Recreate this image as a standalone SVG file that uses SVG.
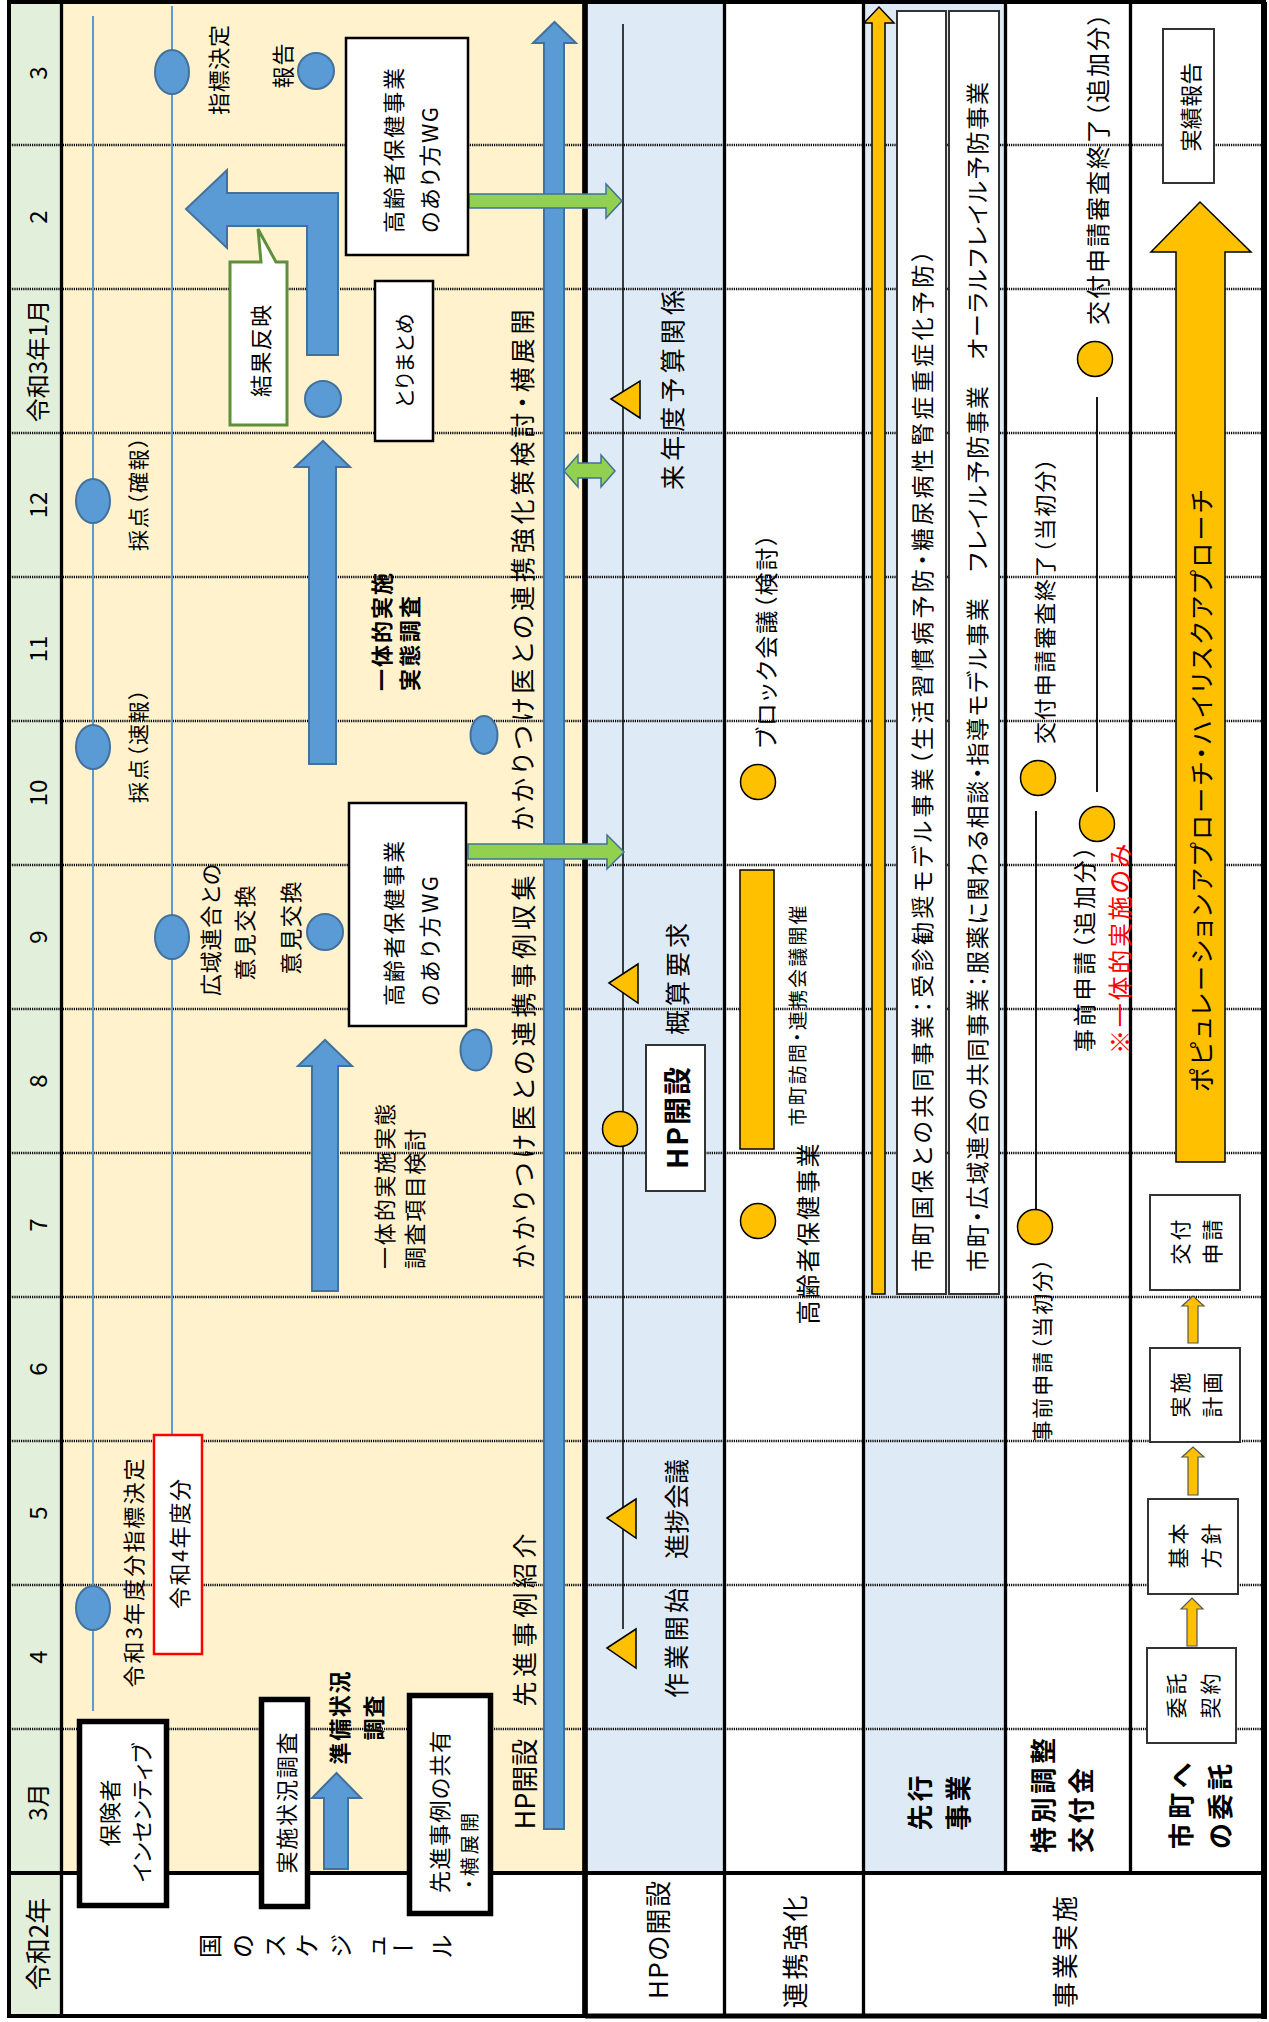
<svg xmlns="http://www.w3.org/2000/svg" width="1269" height="2022" viewBox="0 0 1269 2022">
<style>
text{font-family:"Noto Sans CJK JP","Noto Sans",sans-serif;text-anchor:middle;dominant-baseline:central;fill:#000;font-feature-settings:"palt"}
.s{text-anchor:start}
.b{font-weight:bold}
.grid{stroke:#000;stroke-width:2.5;stroke-dasharray:1.2 1;fill:none}
.ln{stroke:#000;fill:none}
.bl{fill:#5b9bd5;stroke:#41719c;stroke-width:2}
.bln{stroke:#5b9bd5;stroke-width:2;fill:none}
.gr{fill:#92d050;stroke:#41719c;stroke-width:1.5}
.yl{fill:#ffc000;stroke:#000;stroke-width:1.5}
.ys{fill:#ffc000;stroke:#555;stroke-width:1.2}
.bx{fill:#fff;stroke:#000;stroke-width:2.5}
.tb{fill:#fff;stroke:#000;stroke-width:5.5}
.gb{fill:#fff;stroke:#333;stroke-width:2}
</style>
<rect width="1269" height="2022" fill="#fff"/>
<g id="backgrounds">
<rect x="10" y="3" width="52" height="2013" fill="#e2efda"/>
<rect x="62" y="3" width="523" height="1870" fill="#fff2cc"/>
<rect x="585" y="3" width="139" height="1870" fill="#deebf7"/>
<rect x="863" y="3" width="142" height="1870" fill="#deebf7"/>
</g>
<g id="grid">
<path class="grid" d="M10,145H1261M10,289H1261M10,433H1261M10,577H1261M10,721H1261M10,865H1261M10,1009H1261M10,1153H1261M10,1297H1261M10,1441H1261M10,1585H1261M10,1729H1261"/>
<path class="ln" stroke-width="3.3" d="M61.5,2V2016M724.5,2V2016M863.5,2V2016M1005.5,2V1873M1130.5,2V1873"/>
<path class="ln" stroke-width="5.7" d="M585,2V2016"/>
<path class="ln" stroke-width="4" d="M8,1873H1264"/>
<rect class="ln" x="9" y="2" width="1255" height="2014" stroke-width="4"/>
<path class="ln" stroke-width="6" d="M1264,2V2019"/>
<path class="ln" stroke-width="5" d="M585,2016H1266"/>
</g>
<g id="months">
<text font-size="24" transform="translate(36 73) rotate(-90)">3</text>
<text font-size="24" transform="translate(36 217) rotate(-90)">2</text>
<text font-size="24" transform="translate(36 361) rotate(-90)">令和3年1月</text>
<text font-size="24" transform="translate(36 505) rotate(-90)">12</text>
<text font-size="24" transform="translate(36 649) rotate(-90)">11</text>
<text font-size="24" transform="translate(36 793) rotate(-90)">10</text>
<text font-size="24" transform="translate(36 937) rotate(-90)">9</text>
<text font-size="24" transform="translate(36 1081) rotate(-90)">8</text>
<text font-size="24" transform="translate(36 1225) rotate(-90)">7</text>
<text font-size="24" transform="translate(36 1369) rotate(-90)">6</text>
<text font-size="24" transform="translate(36 1513) rotate(-90)">5</text>
<text font-size="24" transform="translate(36 1657) rotate(-90)">4</text>
<text font-size="24" transform="translate(36 1802) rotate(-90)">3月</text>
<text font-size="26" transform="translate(36 1944) rotate(-90)">令和2年</text>
</g>
<g id="row-labels">
<text font-size="24" transform="translate(208 1946) rotate(-90)">国</text>
<text font-size="24" transform="translate(241 1946) rotate(-90)">の</text>
<text font-size="24" transform="translate(273 1946) rotate(-90)">ス</text>
<text font-size="24" transform="translate(305 1946) rotate(-90)">ケ</text>
<text font-size="24" transform="translate(339 1946) rotate(-90)">ジ</text>
<text font-size="24" transform="translate(374 1946) rotate(-90)">ュ</text>
<text font-size="24" transform="translate(403 1946)">ー</text>
<text font-size="24" transform="translate(440 1946) rotate(-90)">ル</text>
<text font-size="26" textLength="118" transform="translate(656 1940) rotate(-90)">HPの開設</text>
<text font-size="26" textLength="113" transform="translate(793 1952) rotate(-90)">連携強化</text>
<text font-size="26" textLength="112" transform="translate(1063 1952) rotate(-90)">事業実施</text>
<text class="b" font-size="26" textLength="55" transform="translate(918 1803) rotate(-90)">先行</text>
<text class="b" font-size="26" textLength="55" transform="translate(956 1803) rotate(-90)">事業</text>
<text class="b s" font-size="26" textLength="115" transform="translate(1041 1853) rotate(-90)">特別調整</text>
<text class="b s" font-size="26" textLength="85" transform="translate(1079 1853) rotate(-90)">交付金</text>
<text class="b s" font-size="26" textLength="86" transform="translate(1179 1849) rotate(-90)">市町へ</text>
<text class="b s" font-size="26" textLength="85" transform="translate(1218 1849) rotate(-90)">の委託</text>
</g>
<g id="connectors">
<path class="bln" d="M93,16V1711M172,6V1435"/>
<path class="ln" stroke-width="1.5" d="M623,24V1629"/>
<path class="ln" stroke-width="1.8" d="M1036,811V1210M1097,397V792"/>
<path class="bl" d="M544,1829H564V43H576L554.5,22L533,43H544Z"/>
<path class="bl" d="M307,355H338V193H227V170L186,209L227,248V226H307Z"/>
<path class="bl" d="M309,764H336V467H350L323,441L295,467H309Z"/>
<path class="bl" d="M312,1291H338V1066H352L325,1040L298,1066H312Z"/>
<path class="bl" d="M324,1869H348V1798H361L336.5,1773L312,1798H324Z"/>
<path class="gr" d="M469,194H606V184L622,201L606,218V208H469Z"/>
<path class="gr" d="M468,844H607V835L624,852L607,869V859H468Z"/>
<path class="gr" d="M564,471L578,455V463H601V455L615,471L601,487V478H578V487Z"/>
<path class="yl" d="M872,1294H885V23H894L879,7L864,23H872Z"/>
<path class="yl" stroke-width="2" d="M1176,1162H1225V252H1251L1200,202L1151,252H1176Z"/>
<path class="ys" d="M1188,1343H1198V1306H1204L1193,1296L1182,1306H1188Z"/>
<path class="ys" d="M1188,1495H1198V1457H1204L1193,1447L1182,1457H1188Z"/>
<path class="ys" d="M1187,1646H1197V1609H1203L1192,1598L1181,1609H1187Z"/>
</g>
<g id="schedule-nodes">
<g id="n-kakuho"><ellipse class="bl" cx="93" cy="501" rx="17" ry="22"/><text font-size="21" textLength="114" transform="translate(137 494) rotate(-90)">採点（確報）</text></g>
<g id="n-sokuho"><ellipse class="bl" cx="93" cy="747" rx="17" ry="22"/><text font-size="21" textLength="114" transform="translate(137 746) rotate(-90)">採点（速報）</text></g>
<g id="n-r3shihyo"><ellipse class="bl" cx="93" cy="1608" rx="17" ry="22"/><text font-size="22" textLength="229" transform="translate(132 1573) rotate(-90)">令和3年度分指標決定</text></g>
<g id="n-shihyo"><ellipse class="bl" cx="172" cy="72" rx="17" ry="22"/><text font-size="22" textLength="90" transform="translate(217 70) rotate(-90)">指標決定</text></g>
<g id="n-kouiki"><ellipse class="bl" cx="172" cy="937" rx="17" ry="22"/><text font-size="22" textLength="132" transform="translate(209 930) rotate(-90)">広域連合との</text><text font-size="22" textLength="95" transform="translate(243 933) rotate(-90)">意見交換</text></g>
<g id="n-r4"><rect x="154" y="1435" width="48" height="219" fill="#fff" stroke="#f00" stroke-width="2.5"/><text font-size="22" textLength="130" transform="translate(178 1544) rotate(-90)">令和4年度分</text></g>
<g id="n-hokoku"><circle class="bl" cx="316" cy="71" r="18"/><text font-size="22" textLength="45" transform="translate(281 66) rotate(-90)">報告</text></g>
<g id="n-iken"><circle class="bl" cx="325" cy="932" r="18"/><text font-size="22" textLength="93" transform="translate(289 928) rotate(-90)">意見交換</text></g>
<g id="n-matome-dot"><circle class="bl" cx="323" cy="399" r="18"/></g>
<g id="n-kekka"><path d="M230,262H261L258,229L276,262H287V425H230Z" fill="#fff" stroke="#5e8f3c" stroke-width="3"/><text font-size="22" textLength="92" transform="translate(259 351) rotate(-90)">結果反映</text></g>
<g id="n-wg1"><rect class="bx" x="346" y="38" width="122" height="217"/><text class="s" font-size="22" textLength="165" transform="translate(392 233) rotate(-90)">高齢者保健事業</text><text class="s" font-size="22" textLength="126" transform="translate(428 233) rotate(-90)">のあり方WG</text></g>
<g id="n-wg2"><rect class="bx" x="349" y="803" width="117" height="223"/><text class="s" font-size="22" textLength="165" transform="translate(392 1006) rotate(-90)">高齢者保健事業</text><text class="s" font-size="22" textLength="130" transform="translate(428 1006) rotate(-90)">のあり方WG</text></g>
<g id="n-matome"><rect class="bx" x="375" y="281" width="58" height="160"/><text font-size="21" textLength="95" transform="translate(403 361) rotate(-90)">とりまとめ</text></g>
<g id="n-chosa"><text class="b s" font-size="22" textLength="118" transform="translate(380 691) rotate(-90)">一体的実施</text><text class="b s" font-size="22" textLength="95" transform="translate(408 691) rotate(-90)">実態調査</text></g>
<g id="n-komoku"><text class="s" font-size="22" textLength="165" transform="translate(383 1269) rotate(-90)">一体的実施実態</text><text class="s" font-size="22" textLength="140" transform="translate(413 1269) rotate(-90)">調査項目検討</text></g>
<g id="n-insentive"><rect class="tb" x="79.5" y="1721.5" width="87" height="184"/><text font-size="22" textLength="67" transform="translate(108 1813) rotate(-90)">保険者</text><text font-size="22" textLength="139" transform="translate(140 1813) rotate(-90)">インセンティブ</text></g>
<g id="n-jisshi"><rect class="tb" x="261.5" y="1699.5" width="46" height="207"/><text font-size="22" textLength="141" transform="translate(285 1803) rotate(-90)">実施状況調査</text></g>
<g id="n-junbi"><text class="b" font-size="22" textLength="93" transform="translate(338 1718) rotate(-90)">準備状況</text><text class="b" font-size="22" textLength="45" transform="translate(372 1718) rotate(-90)">調査</text></g>
<g id="n-senshin"><rect class="tb" x="409.5" y="1695.5" width="81" height="218"/><text class="s" font-size="22" textLength="162" transform="translate(438 1893) rotate(-90)">先進事例の共有</text><text class="s" font-size="19" textLength="76" transform="translate(468 1889) rotate(-90)">・横展開</text></g>
<g id="n-kakaritsuke"><ellipse class="bl" cx="476" cy="1050" rx="15.5" ry="20.5"/><ellipse class="bl" cx="484" cy="735" rx="13.5" ry="19"/>
<text font-size="27" transform="translate(523 1784) rotate(-90)">HP開設</text>
<text font-size="25" textLength="173" transform="translate(523 1620) rotate(-90)">先進事例紹介</text>
<text font-size="25" textLength="393" transform="translate(522 1072) rotate(-90)">かかりつけ医との連携事例収集</text>
<text font-size="25" textLength="521" transform="translate(521 570) rotate(-90)">かかりつけ医との連携強化策検討・横展開</text></g>
</g>
<g id="hp-nodes">
<g id="n-sagyo"><path class="yl" stroke-width="1.2" d="M607,1648L636,1629V1668Z"/><text font-size="25" textLength="110" transform="translate(675 1643) rotate(-90)">作業開始</text></g>
<g id="n-shinchoku"><path class="yl" stroke-width="1.2" d="M607,1518L636,1499V1538Z"/><text font-size="25" textLength="100" transform="translate(675 1509) rotate(-90)">進捗会議</text></g>
<g id="n-hp"><circle class="yl" cx="620" cy="1129" r="17.5"/><rect class="gb" x="646" y="1045" width="59" height="146"/><text class="b" font-size="28" textLength="102" transform="translate(676 1118) rotate(-90)">HP開設</text></g>
<g id="n-gaisan"><path class="yl" stroke-width="1.2" d="M609,983L638,964V1003Z"/><text font-size="25" textLength="112" transform="translate(676 979) rotate(-90)">概算要求</text></g>
<g id="n-rainen"><path class="yl" stroke-width="1.2" d="M611,399L640,381V418Z"/><text font-size="25" textLength="200" transform="translate(671 390) rotate(-90)">来年度予算関係</text></g>
</g>
<g id="renkei-nodes">
<g id="n-block"><circle class="yl" cx="758" cy="782" r="17.5"/><text font-size="23" textLength="214" transform="translate(765 641) rotate(-90)">ブロック会議（検討）</text></g>
<g id="n-homon"><rect class="yl" x="740" y="870" width="34" height="279"/><text font-size="19" textLength="221" transform="translate(796 1016) rotate(-90)">市町訪問・連携会議開催</text></g>
<g id="n-koreisha"><circle class="yl" cx="758" cy="1221" r="17.5"/><text font-size="24" textLength="181" transform="translate(806 1234) rotate(-90)">高齢者保健事業</text></g>
</g>
<g id="senko-nodes">
<g id="n-kokuho"><rect class="gb" x="897" y="11" width="49" height="1283"/><text class="s" font-size="23" textLength="1022" transform="translate(921 1272) rotate(-90)">市町国保との共同事業：受診勧奨モデル事業（生活習慣病予防・糖尿病性腎症重症化予防）</text></g>
<g id="n-kouiki-jigyo"><rect class="gb" x="949" y="11" width="50" height="1283"/><text class="s" font-size="23" textLength="1190" transform="translate(976 1272) rotate(-90)">市町・広域連合の共同事業：服薬に関わる相談・指導モデル事業　フレイル予防事業　オーラルフレイル予防事業</text></g>
</g>
<g id="kofukin-nodes">
<g id="n-jizen1"><circle class="yl" cx="1035" cy="1227" r="17.5"/><text font-size="21" textLength="183" transform="translate(1041 1350) rotate(-90)">事前申請（当初分）</text></g>
<g id="n-shinsa1"><circle class="yl" cx="1038" cy="778" r="17.5"/><text class="s" font-size="22" textLength="286" transform="translate(1043 744) rotate(-90)">交付申請審査終了（当初分）</text></g>
<g id="n-jizen2"><circle class="yl" cx="1097" cy="824" r="17.5"/><text font-size="23" textLength="206" transform="translate(1083 949) rotate(-90)">事前申請（追加分）</text><text font-size="24" textLength="210" style="fill:#f00" transform="translate(1118 949) rotate(-90)">※一体的実施のみ</text></g>
<g id="n-shinsa2"><circle class="yl" cx="1095" cy="359" r="17.5"/><text class="s" font-size="24" textLength="312" transform="translate(1096 325) rotate(-90)">交付申請審査終了（追加分）</text></g>
</g>
<g id="itaku-nodes">
<g id="n-approach"><text font-size="25" textLength="602" transform="translate(1200 791) rotate(-90)">ポピュレーションアプローチ・ハイリスクアプローチ</text></g>
<g id="n-jisseki"><rect class="gb" x="1163" y="29" width="51" height="154"/><text font-size="22" textLength="89" transform="translate(1189 107) rotate(-90)">実績報告</text></g>
<g id="n-kofu"><rect class="gb" x="1150" y="1195" width="90" height="95"/><text font-size="21" textLength="45" transform="translate(1179 1242) rotate(-90)">交付</text><text font-size="21" textLength="45" transform="translate(1211 1242) rotate(-90)">申請</text></g>
<g id="n-keikaku"><rect class="gb" x="1150" y="1348" width="90" height="94"/><text font-size="21" textLength="45" transform="translate(1179 1395) rotate(-90)">実施</text><text font-size="21" textLength="45" transform="translate(1211 1395) rotate(-90)">計画</text></g>
<g id="n-hoshin"><rect class="gb" x="1148" y="1499" width="90" height="95"/><text font-size="21" textLength="45" transform="translate(1177 1546) rotate(-90)">基本</text><text font-size="21" textLength="45" transform="translate(1210 1546) rotate(-90)">方針</text></g>
<g id="n-keiyaku"><rect class="gb" x="1147" y="1648" width="89" height="95"/><text font-size="21" textLength="45" transform="translate(1175 1696) rotate(-90)">委託</text><text font-size="21" textLength="45" transform="translate(1209 1696) rotate(-90)">契約</text></g>
</g>
</svg>
